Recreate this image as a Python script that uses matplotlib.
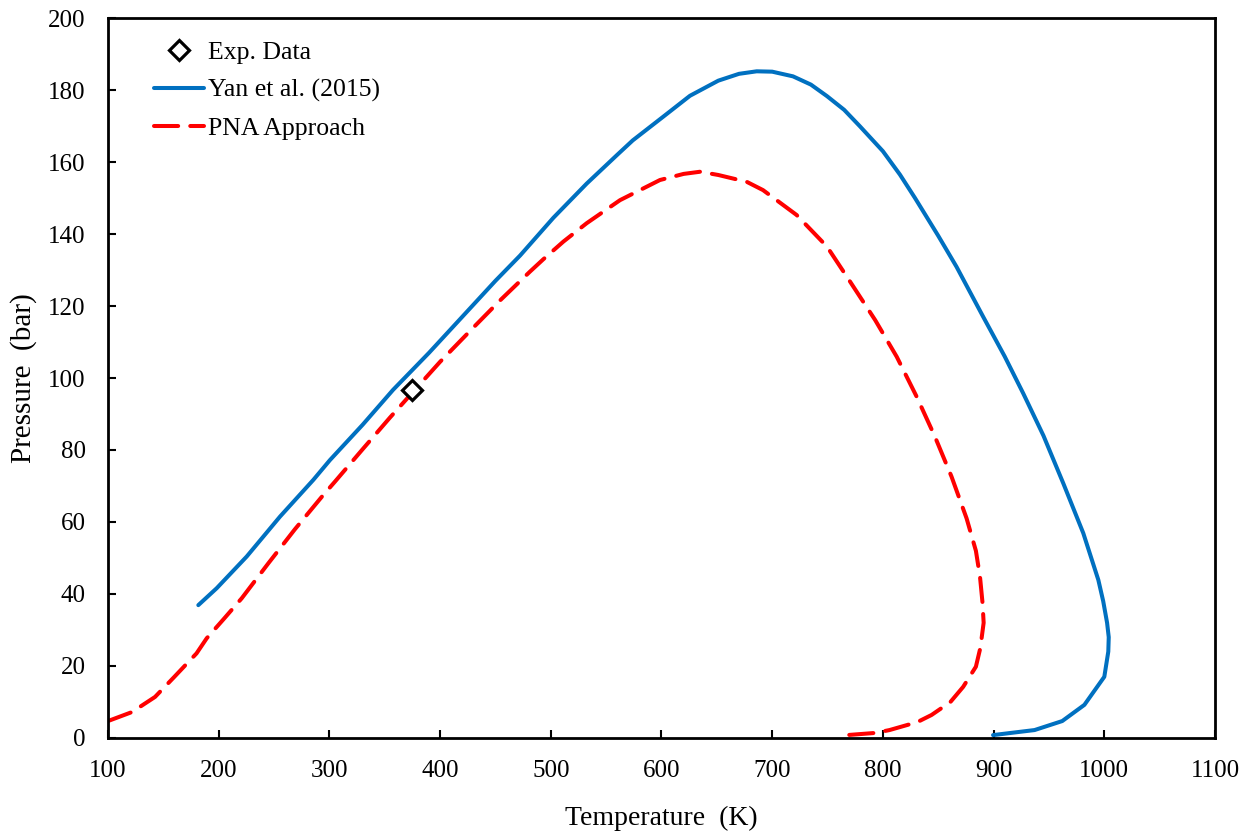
import matplotlib
matplotlib.use("Agg")
import matplotlib.pyplot as plt

plt.rcParams['font.family'] = ['Liberation Serif', 'DejaVu Serif']

# Experimental data point
exp_T = [375]
exp_P = [96.8]

# Yan et al. (2015)
yan_T = [181.6, 198.2, 225.3, 255.4, 285.5, 300.5, 330, 357.5, 390, 420, 450, 472.2, 502.3,
         532.4, 560, 574, 601.6, 625.7, 651.3, 670, 686, 700, 718.8, 735, 749.5, 765, 779,
         800, 815.4, 829, 850, 866.5, 890.6, 910, 926.8, 945, 963, 981, 994.6, 999, 1002.5,
         1004, 1003.6, 1000, 982, 962, 937, 899.5]
yan_P = [36.9, 41.6, 50.4, 61.5, 71.7, 77.2, 87, 96.7, 107, 117, 127, 134, 144.5,
         154, 162, 166, 172.6, 178.4, 182.6, 184.5, 185.2, 185.1, 183.8, 181.5, 178.3, 174.5, 170,
         163, 156.5, 150, 139.5, 130.9, 117, 106, 95.7, 84, 70.7, 56.9, 43.9, 38, 32,
         28, 24, 17, 9.2, 4.7, 2.2, 0.8]

# PNA Approach
pna_T = [100, 121.7, 142.5, 160, 180, 189.2, 205, 220.8, 244.8, 268.9, 294.5, 305, 330,
         354.7, 400, 430, 454, 481, 493.3, 511.4, 532.4, 562.5, 598.6, 620, 634.8, 651.3,
         677, 691.7, 704, 722, 749.5, 770.3, 793, 812.5, 830.5, 847, 862, 875.6, 884, 887.7,
         890, 891, 888, 884, 872.5, 861, 844, 831, 806, 793, 767.5]
pna_P = [4.7, 7.2, 11.4, 17, 23.5, 27.7, 33.2, 38.8, 48.5, 58, 67.5, 71.2, 80.2,
         89, 104.5, 114, 121.5, 129.5, 133, 137.9, 143, 149.4, 155, 156.7, 157.3, 156.4,
         154.5, 152.2, 149.4, 145.3, 136.5, 126.8, 116.1, 105.9, 94.8, 83.7, 72.6, 61, 52, 44.8,
         37.5, 32, 25, 19.8, 14.2, 10, 6.4, 4.4, 2.2, 1.4, 0.8]

x_ticks = [100, 200, 300, 400, 500, 600, 700, 800, 900, 1000, 1100]
y_ticks = [0, 20, 40, 60, 80, 100, 120, 140, 160, 180, 200]

fig = plt.figure(figsize=(12.57, 8.35), dpi=100)
ax = fig.add_axes([0.0859, 0.1162, 0.8807, 0.8622])

ax.plot(yan_T, yan_P, color='#0070C0', lw=2.9, label='Yan et al. (2015)',
        solid_capstyle='round', solid_joinstyle='round')
ax.plot(pna_T, pna_P, color='#FF0000', lw=2.9, dashes=(6, 3), label='PNA Approach',
        dash_capstyle='round', dash_joinstyle='round')
ax.plot(exp_T, exp_P, linestyle='none', marker='D', markersize=10, markerfacecolor='white',
        markeredgecolor='black', markeredgewidth=2.3, label='Exp. Data', zorder=5)

ax.set_xlim(100, 1100)
ax.set_ylim(0, 200)
ax.set_xticks(x_ticks)
ax.set_yticks(y_ticks)
ax.tick_params(direction='in', length=6, width=1.5, labelsize=18, pad=16)
for s in ax.spines.values():
    s.set_linewidth(2)
    s.set_color('black')

ax.set_xlabel('Temperature  (K)', fontsize=20, labelpad=17)
ax.set_ylabel('Pressure  (bar)', fontsize=21, labelpad=8)

handles, labels = ax.get_legend_handles_labels()
order = [2, 0, 1]
ax.legend([handles[i] for i in order], [labels[i] for i in order], loc='upper left',
          bbox_to_anchor=(0.021, 1.0), frameon=False, fontsize=18.5, handlelength=1.95,
          handletextpad=0.15, labelspacing=0.58)

fig.savefig('out.png', dpi=100)
